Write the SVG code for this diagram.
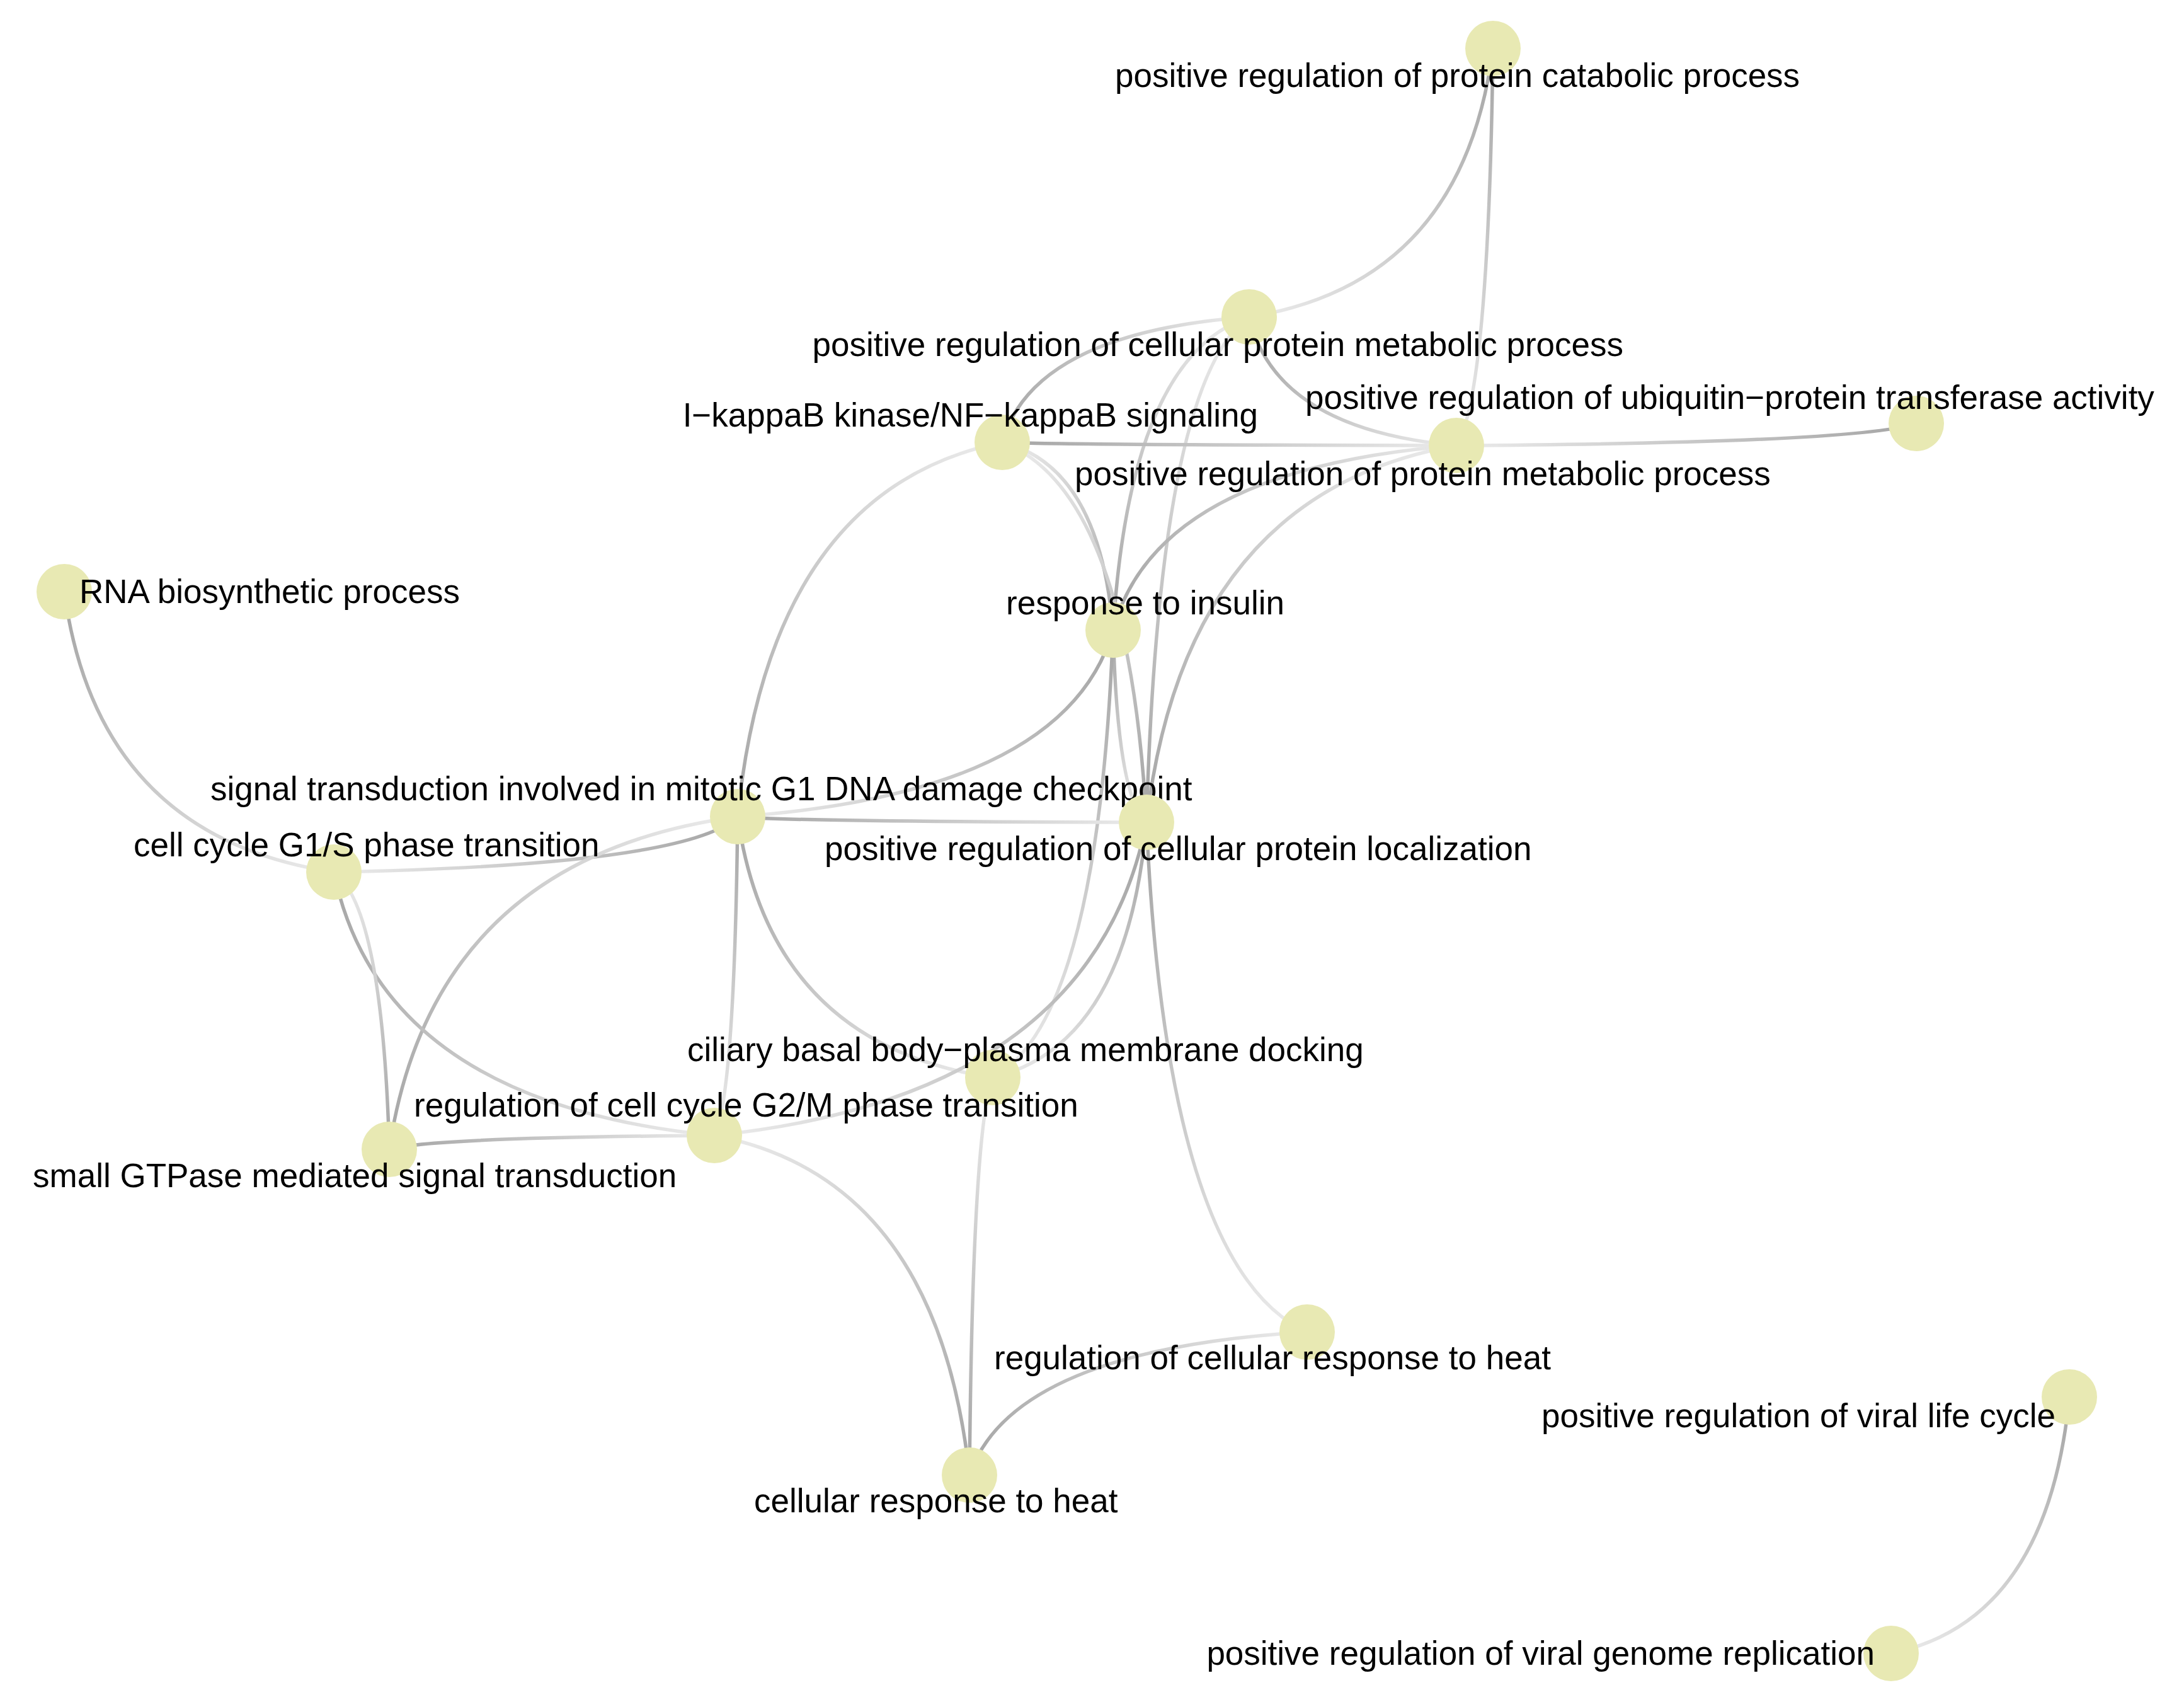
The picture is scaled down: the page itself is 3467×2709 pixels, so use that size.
<svg xmlns="http://www.w3.org/2000/svg" width="3467" height="2709" viewBox="0 0 3467 2709">
<style>
.e{fill:none;stroke-width:5.5;stroke-linecap:round}
.n{fill:#e8e9b3}
.l{font-family:"Liberation Sans",Arial,Helvetica,sans-serif;font-size:53px;fill:#000}
.d{stop-color:#a5a5a5}
.w{stop-color:#ebebeb}
</style>
<defs>
<linearGradient id="g1" gradientUnits="userSpaceOnUse" x1="2370" y1="77" x2="1983" y2="503"><stop offset="0" class="d"/><stop offset="1" class="w"/></linearGradient>
<linearGradient id="g2" gradientUnits="userSpaceOnUse" x1="2370" y1="77" x2="2312" y2="707"><stop offset="0" class="d"/><stop offset="1" class="w"/></linearGradient>
<linearGradient id="g3" gradientUnits="userSpaceOnUse" x1="1591" y1="702" x2="1983" y2="503"><stop offset="0" class="d"/><stop offset="1" class="w"/></linearGradient>
<linearGradient id="g4" gradientUnits="userSpaceOnUse" x1="1983" y1="503" x2="2312" y2="707"><stop offset="0" class="d"/><stop offset="1" class="w"/></linearGradient>
<linearGradient id="g5" gradientUnits="userSpaceOnUse" x1="1767" y1="1000" x2="1983" y2="503"><stop offset="0" class="d"/><stop offset="1" class="w"/></linearGradient>
<linearGradient id="g6" gradientUnits="userSpaceOnUse" x1="1820" y1="1305" x2="1983" y2="503"><stop offset="0" class="d"/><stop offset="1" class="w"/></linearGradient>
<linearGradient id="g7" gradientUnits="userSpaceOnUse" x1="1591" y1="702" x2="2312" y2="707"><stop offset="0" class="d"/><stop offset="1" class="w"/></linearGradient>
<linearGradient id="g8" gradientUnits="userSpaceOnUse" x1="1767" y1="1000" x2="1591" y2="702"><stop offset="0" class="d"/><stop offset="1" class="w"/></linearGradient>
<linearGradient id="g9" gradientUnits="userSpaceOnUse" x1="1820" y1="1305" x2="1591" y2="702"><stop offset="0" class="d"/><stop offset="1" class="w"/></linearGradient>
<linearGradient id="g10" gradientUnits="userSpaceOnUse" x1="1171" y1="1296" x2="1591" y2="702"><stop offset="0" class="d"/><stop offset="1" class="w"/></linearGradient>
<linearGradient id="g11" gradientUnits="userSpaceOnUse" x1="3042" y1="672" x2="2312" y2="707"><stop offset="0" class="d"/><stop offset="1" class="w"/></linearGradient>
<linearGradient id="g12" gradientUnits="userSpaceOnUse" x1="1767" y1="1000" x2="2312" y2="707"><stop offset="0" class="d"/><stop offset="1" class="w"/></linearGradient>
<linearGradient id="g13" gradientUnits="userSpaceOnUse" x1="1820" y1="1305" x2="2312" y2="707"><stop offset="0" class="d"/><stop offset="1" class="w"/></linearGradient>
<linearGradient id="g14" gradientUnits="userSpaceOnUse" x1="102" y1="939" x2="530" y2="1384"><stop offset="0" class="d"/><stop offset="1" class="w"/></linearGradient>
<linearGradient id="g15" gradientUnits="userSpaceOnUse" x1="1767" y1="1000" x2="1171" y2="1296"><stop offset="0" class="d"/><stop offset="1" class="w"/></linearGradient>
<linearGradient id="g16" gradientUnits="userSpaceOnUse" x1="1767" y1="1000" x2="1820" y2="1305"><stop offset="0" class="d"/><stop offset="1" class="w"/></linearGradient>
<linearGradient id="g17" gradientUnits="userSpaceOnUse" x1="1767" y1="1000" x2="1576" y2="1710"><stop offset="0" class="d"/><stop offset="1" class="w"/></linearGradient>
<linearGradient id="g18" gradientUnits="userSpaceOnUse" x1="1171" y1="1296" x2="1820" y2="1305"><stop offset="0" class="d"/><stop offset="1" class="w"/></linearGradient>
<linearGradient id="g19" gradientUnits="userSpaceOnUse" x1="1171" y1="1296" x2="530" y2="1384"><stop offset="0" class="d"/><stop offset="1" class="w"/></linearGradient>
<linearGradient id="g20" gradientUnits="userSpaceOnUse" x1="618" y1="1824" x2="1171" y2="1296"><stop offset="0" class="d"/><stop offset="1" class="w"/></linearGradient>
<linearGradient id="g21" gradientUnits="userSpaceOnUse" x1="1171" y1="1296" x2="1576" y2="1710"><stop offset="0" class="d"/><stop offset="1" class="w"/></linearGradient>
<linearGradient id="g22" gradientUnits="userSpaceOnUse" x1="1171" y1="1296" x2="1134" y2="1802"><stop offset="0" class="d"/><stop offset="1" class="w"/></linearGradient>
<linearGradient id="g23" gradientUnits="userSpaceOnUse" x1="530" y1="1384" x2="1134" y2="1802"><stop offset="0" class="d"/><stop offset="1" class="w"/></linearGradient>
<linearGradient id="g24" gradientUnits="userSpaceOnUse" x1="618" y1="1824" x2="530" y2="1384"><stop offset="0" class="d"/><stop offset="1" class="w"/></linearGradient>
<linearGradient id="g25" gradientUnits="userSpaceOnUse" x1="618" y1="1824" x2="1134" y2="1802"><stop offset="0" class="d"/><stop offset="1" class="w"/></linearGradient>
<linearGradient id="g26" gradientUnits="userSpaceOnUse" x1="1820" y1="1305" x2="1134" y2="1802"><stop offset="0" class="d"/><stop offset="1" class="w"/></linearGradient>
<linearGradient id="g27" gradientUnits="userSpaceOnUse" x1="1820" y1="1305" x2="1576" y2="1710"><stop offset="0" class="d"/><stop offset="1" class="w"/></linearGradient>
<linearGradient id="g28" gradientUnits="userSpaceOnUse" x1="1820" y1="1305" x2="2075" y2="2114"><stop offset="0" class="d"/><stop offset="1" class="w"/></linearGradient>
<linearGradient id="g29" gradientUnits="userSpaceOnUse" x1="1539" y1="2341" x2="1134" y2="1802"><stop offset="0" class="d"/><stop offset="1" class="w"/></linearGradient>
<linearGradient id="g30" gradientUnits="userSpaceOnUse" x1="1539" y1="2341" x2="1576" y2="1710"><stop offset="0" class="d"/><stop offset="1" class="w"/></linearGradient>
<linearGradient id="g31" gradientUnits="userSpaceOnUse" x1="1539" y1="2341" x2="2075" y2="2114"><stop offset="0" class="d"/><stop offset="1" class="w"/></linearGradient>
<linearGradient id="g32" gradientUnits="userSpaceOnUse" x1="3285" y1="2217" x2="3002" y2="2624"><stop offset="0" class="d"/><stop offset="1" class="w"/></linearGradient>
</defs>
<rect width="3467" height="2709" fill="#ffffff"/>
<g id="connectors">
<path class="e" stroke="url(#g1)" d="M2370,77 Q2322,450 1983,503"/>
<path class="e" stroke="url(#g2)" d="M2370,77 Q2363,628 2312,707"/>
<path class="e" stroke="url(#g3)" d="M1591,702 Q1640,528 1983,503"/>
<path class="e" stroke="url(#g4)" d="M1983,503 Q2024,681 2312,707"/>
<path class="e" stroke="url(#g5)" d="M1767,1000 Q1794,565 1983,503"/>
<path class="e" stroke="url(#g6)" d="M1820,1305 Q1840,603 1983,503"/>
<path class="e" stroke="url(#g7)" d="M1591,702 Q1681,706 2312,707"/>
<path class="e" stroke="url(#g8)" d="M1767,1000 Q1745,739 1591,702"/>
<path class="e" stroke="url(#g9)" d="M1820,1305 Q1791,777 1591,702"/>
<path class="e" stroke="url(#g10)" d="M1171,1296 Q1223,776 1591,702"/>
<path class="e" stroke="url(#g11)" d="M3042,672 Q2951,703 2312,707"/>
<path class="e" stroke="url(#g12)" d="M1767,1000 Q1835,744 2312,707"/>
<path class="e" stroke="url(#g13)" d="M1820,1305 Q1881,782 2312,707"/>
<path class="e" stroke="url(#g14)" d="M102,939 Q155,1328 530,1384"/>
<path class="e" stroke="url(#g15)" d="M1767,1000 Q1692,1259 1171,1296"/>
<path class="e" stroke="url(#g16)" d="M1767,1000 Q1774,1267 1820,1305"/>
<path class="e" stroke="url(#g17)" d="M1767,1000 Q1743,1621 1576,1710"/>
<path class="e" stroke="url(#g18)" d="M1171,1296 Q1252,1304 1820,1305"/>
<path class="e" stroke="url(#g19)" d="M1171,1296 Q1091,1373 530,1384"/>
<path class="e" stroke="url(#g20)" d="M618,1824 Q687,1362 1171,1296"/>
<path class="e" stroke="url(#g21)" d="M1171,1296 Q1222,1658 1576,1710"/>
<path class="e" stroke="url(#g22)" d="M1171,1296 Q1166,1739 1134,1802"/>
<path class="e" stroke="url(#g23)" d="M530,1384 Q605,1750 1134,1802"/>
<path class="e" stroke="url(#g24)" d="M618,1824 Q607,1439 530,1384"/>
<path class="e" stroke="url(#g25)" d="M618,1824 Q682,1805 1134,1802"/>
<path class="e" stroke="url(#g26)" d="M1820,1305 Q1734,1740 1134,1802"/>
<path class="e" stroke="url(#g27)" d="M1820,1305 Q1789,1659 1576,1710"/>
<path class="e" stroke="url(#g28)" d="M1820,1305 Q1852,2013 2075,2114"/>
<path class="e" stroke="url(#g29)" d="M1539,2341 Q1488,1869 1134,1802"/>
<path class="e" stroke="url(#g30)" d="M1539,2341 Q1544,1789 1576,1710"/>
<path class="e" stroke="url(#g31)" d="M1539,2341 Q1606,2142 2075,2114"/>
<path class="e" stroke="url(#g32)" d="M3285,2217 Q3250,2573 3002,2624"/>
</g>
<g id="node-catabolic"><circle class="n" cx="2370" cy="77" r="44"/><text class="l" x="1770" y="138">positive regulation of protein catabolic process</text></g>
<g id="node-cellular-protein-metabolic"><circle class="n" cx="1983" cy="503" r="44"/><text class="l" x="2577" y="565" text-anchor="end">positive regulation of cellular protein metabolic process</text></g>
<g id="node-ikappab"><circle class="n" cx="1591" cy="702" r="44"/><text class="l" x="1997" y="677" text-anchor="end">I−kappaB kinase/NF−kappaB signaling</text></g>
<g id="node-protein-metabolic"><circle class="n" cx="2312" cy="707" r="44"/><text class="l" x="1706" y="770">positive regulation of protein metabolic process</text></g>
<g id="node-ubiquitin"><circle class="n" cx="3042" cy="672" r="44"/><text class="l" x="2072" y="649">positive regulation of ubiquitin−protein transferase activity</text></g>
<g id="node-rna"><circle class="n" cx="102" cy="939" r="44"/><text class="l" x="126" y="957">RNA biosynthetic process</text></g>
<g id="node-insulin"><circle class="n" cx="1767" cy="1000" r="44"/><text class="l" x="1597" y="975">response to insulin</text></g>
<g id="node-signal"><circle class="n" cx="1171" cy="1296" r="44"/><text class="l" x="334" y="1270">signal transduction involved in mitotic G1 DNA damage checkpoint</text></g>
<g id="node-localization"><circle class="n" cx="1820" cy="1305" r="44"/><text class="l" x="1309" y="1365">positive regulation of cellular protein localization</text></g>
<g id="node-g1s"><circle class="n" cx="530" cy="1384" r="44"/><text class="l" x="212" y="1359">cell cycle G1/S phase transition</text></g>
<g id="node-ciliary"><circle class="n" cx="1576" cy="1710" r="44"/><text class="l" x="1091" y="1684">ciliary basal body−plasma membrane docking</text></g>
<g id="node-g2m"><circle class="n" cx="1134" cy="1802" r="44"/><text class="l" x="657" y="1772">regulation of cell cycle G2/M phase transition</text></g>
<g id="node-gtpase"><circle class="n" cx="618" cy="1824" r="44"/><text class="l" x="52" y="1884">small GTPase mediated signal transduction</text></g>
<g id="node-reg-heat"><circle class="n" cx="2075" cy="2114" r="44"/><text class="l" x="1578" y="2173">regulation of cellular response to heat</text></g>
<g id="node-cell-heat"><circle class="n" cx="1539" cy="2341" r="44"/><text class="l" x="1197" y="2400">cellular response to heat</text></g>
<g id="node-viral-life"><circle class="n" cx="3285" cy="2217" r="44"/><text class="l" x="2447" y="2265">positive regulation of viral life cycle</text></g>
<g id="node-viral-genome"><circle class="n" cx="3002" cy="2624" r="44"/><text class="l" x="2976" y="2642" text-anchor="end">positive regulation of viral genome replication</text></g>
</svg>
